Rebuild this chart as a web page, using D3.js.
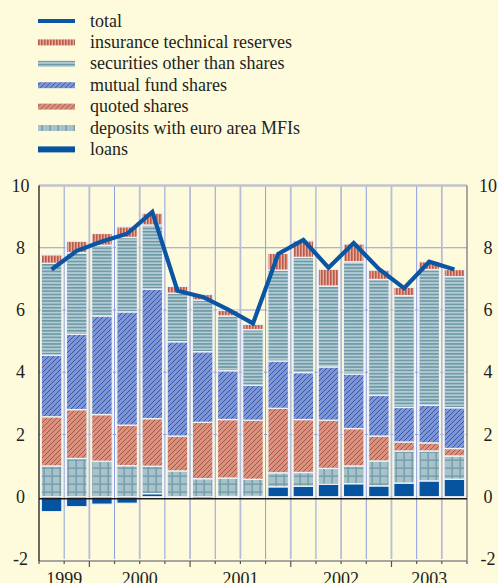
<!DOCTYPE html>
<html>
<head>
<meta charset="utf-8">
<script src="https://cdn.jsdelivr.net/npm/d3@7"></script>
<style>
  body { margin: 0; background: #fefbdd; }
  text { font-family: "Liberation Serif", "Times New Roman", serif; fill: #231f20; }
</style>
</head>
<body>
<div id="chart"></div>
<script>
// quarters 1999 Q3 .. 2003 Q3
const quarters = ['1999Q3','1999Q4','2000Q1','2000Q2','2000Q3','2000Q4','2001Q1','2001Q2','2001Q3','2001Q4',
                  '2002Q1','2002Q2','2002Q3','2002Q4','2003Q1','2003Q2','2003Q3'];
const years = ['1999','2000','2001','2002','2003'];

const loans      = [-0.48,-0.32,-0.24,-0.21, 0.10,-0.02,-0.06, 0.01, 0.01, 0.32, 0.34, 0.40, 0.42, 0.35, 0.44, 0.51, 0.56];
const deposits   = [ 0.99, 1.23, 1.14, 1.00, 0.88, 0.83, 0.58, 0.59, 0.55, 0.45, 0.44, 0.51, 0.57, 0.80, 1.03, 0.96, 0.75];
const quoted     = [ 1.58, 1.57, 1.50, 1.30, 1.53, 1.12, 1.81, 1.88, 1.90, 2.07, 1.70, 1.55, 1.20, 0.80, 0.29, 0.26, 0.24];
const mutual     = [ 1.98, 2.42, 3.17, 3.64, 4.16, 3.03, 2.27, 1.57, 1.12, 1.52, 1.51, 1.71, 1.75, 1.31, 1.11, 1.21, 1.31];
const securities = [ 2.95, 2.62, 2.27, 2.39, 2.06, 1.56, 1.66, 1.76, 1.79, 2.92, 3.70, 2.60, 3.61, 3.72, 3.59, 4.36, 4.21];
const insurance  = [ 0.27, 0.37, 0.38, 0.34, 0.38, 0.22, 0.18, 0.18, 0.17, 0.54, 0.53, 0.54, 0.57, 0.30, 0.27, 0.25, 0.23];
const total      = [ 7.30, 7.90, 8.20, 8.45, 9.15, 6.62, 6.42, 6.02, 5.57, 7.80, 8.25, 7.36, 8.15, 7.32, 6.70, 7.55, 7.30];

const yTicks = [-2, 0, 2, 4, 6, 8, 10];

const series = [
   {key:'loans', values: loans, fill:'url(#p-loans)', label:'loans'},
   {key:'deposits', values: deposits, fill:'url(#p-dep)', label:'deposits with euro area MFIs'},
   {key:'quoted', values: quoted, fill:'url(#p-quoted)', label:'quoted shares'},
   {key:'mutual', values: mutual, fill:'url(#p-mutual)', label:'mutual fund shares'},
   {key:'securities', values: securities, fill:'url(#p-sec)', label:'securities other than shares'},
   {key:'insurance', values: insurance, fill:'url(#p-ins)', label:'insurance technical reserves'}
];

const W = 498, H = 583;
const svg = d3.select('#chart').append('svg').attr('width', W).attr('height', H);
svg.append('rect').attr('width', W).attr('height', H).attr('fill', '#fefbdd');

// patterns
const defs = svg.append('defs');
function pattern(id, w, h, bg, fn){
   const p = defs.append('pattern').attr('id', id).attr('patternUnits','userSpaceOnUse')
                 .attr('width', w).attr('height', h);
   p.append('rect').attr('width', w).attr('height', h).attr('fill', bg);
   fn(p);
}
pattern('p-loans', 4, 4, '#0653a0', ()=>{});
pattern('p-ins', 3, 3, '#e2ab9b', p => p.append('rect').attr('x',0).attr('width',1.6).attr('height',3).attr('fill','#bd5a48'));
pattern('p-sec', 3.3, 3.3, '#b3cbd2', p => p.append('rect').attr('y',0).attr('width',3.3).attr('height',1.5).attr('fill','#6b97a5'));
pattern('p-mutual', 5, 5, '#8195d2', p => {
   p.append('path').attr('d','M0,5 L5,0 M-1,1 L1,-1 M4,6 L6,4').attr('stroke','#2452b4').attr('stroke-width',0.9);
});
pattern('p-quoted', 5, 5, '#d6937f', p => {
   p.append('path').attr('d','M0,5 L5,0 M-1,1 L1,-1 M4,6 L6,4').attr('stroke','#b0473a').attr('stroke-width',0.9);
});
pattern('p-dep', 8, 8, '#a9c1c9', p => {
   p.append('rect').attr('x',3.5).attr('width',1.3).attr('height',8).attr('fill','#6e9ba8');
   p.append('rect').attr('y',3.5).attr('width',8).attr('height',1.3).attr('fill','#6e9ba8');
});

// scales
const margin = {t:185, r:31, b:24, l:39};
const xScale = d3.scaleBand().domain(quarters).range([margin.l, W - margin.r]).paddingInner(0.18).paddingOuter(0.09);
const yScale = d3.scaleLinear().domain([-2, 10]).range([559, 185.5]);
const step = xScale.step();
const x0 = margin.l, x1 = W - margin.r;

// grid
const grid = svg.append('g');
grid.selectAll('.hgrid').data(yTicks.filter(d => d > 0 && d < 10)).join('line')
    .attr('x1', x0).attr('x2', x1).attr('y1', d => yScale(d)).attr('y2', d => yScale(d))
    .attr('stroke', '#8d9edf').attr('stroke-width', 1);
grid.selectAll('.vgrid').data(d3.range(1, quarters.length)).join('line')
    .attr('x1', i => x0 + i*step).attr('x2', i => x0 + i*step)
    .attr('y1', yScale(10)).attr('y2', yScale(-2))
    .attr('stroke', i => i % 2 ? '#8d9edf' : '#b7bdd6').attr('stroke-width', i => i % 2 ? 1 : 1.8);

// stacked bars
const rows = quarters.map((q, i) => {
   const r = {q};
   series.forEach(s => r[s.key] = s.values[i]);
   return r;
});
const stack = d3.stack().keys(series.map(s => s.key)).offset(d3.stackOffsetDiverging);
const stacked = stack(rows);

const bars = svg.append('g');
stacked.forEach((layer, li) => {
   bars.append('g').selectAll('rect').data(layer).join('rect')
      .attr('x', d => xScale(d.data.q))
      .attr('width', xScale.bandwidth())
      .attr('y', d => yScale(Math.max(d[0], d[1])))
      .attr('height', d => Math.abs(yScale(d[0]) - yScale(d[1])))
      .attr('fill', series[li].fill)
      .attr('stroke', '#eef1f6').attr('stroke-width', 1.3);
});

// frame
svg.append('line').attr('x1', x0).attr('x2', x1).attr('y1', yScale(10)).attr('y2', yScale(10))
   .attr('stroke', '#c2c3cc').attr('stroke-width', 2.5);
svg.append('line').attr('x1', x0).attr('x2', x1).attr('y1', yScale(-2)+2).attr('y2', yScale(-2)+2)
   .attr('stroke', '#8a8a8a').attr('stroke-width', 1.3);
svg.append('line').attr('x1', x0).attr('x2', x0).attr('y1', yScale(10)).attr('y2', yScale(-2)+2)
   .attr('stroke', '#1a1a1a').attr('stroke-width', 1.3);
svg.append('line').attr('x1', x1).attr('x2', x1).attr('y1', yScale(10)).attr('y2', yScale(-2)+2)
   .attr('stroke', '#8a8a8a').attr('stroke-width', 1.5);
svg.append('line').attr('x1', x0).attr('x2', x1).attr('y1', yScale(0)+2).attr('y2', yScale(0)+2)
   .attr('stroke', '#1a1a1a').attr('stroke-width', 1.3);

// bottom ticks
svg.append('g').selectAll('line').data(d3.range(0, quarters.length + 1)).join('line')
   .attr('x1', i => x0 + i*step).attr('x2', i => x0 + i*step)
   .attr('y1', yScale(-2)+2).attr('y2', i => yScale(-2) + ((i + 2) % 4 === 0 ? 8 : 5))
   .attr('stroke', '#555').attr('stroke-width', 1.2);

// year labels
const yearPos = years.map(y => {
   const qs = quarters.filter(q => q.startsWith(y));
   return {y, x: (xScale(qs[0]) + xScale(qs[qs.length-1]) + xScale.bandwidth())/2};
});
svg.append('g').selectAll('text').data(yearPos).join('text')
   .attr('x', d => d.x).attr('y', 585).attr('text-anchor','middle')
   .style('font-size','18px').text(d => d.y);

// y labels both sides
svg.append('g').selectAll('text').data(yTicks).join('text')
   .attr('x', 20.5).attr('y', d => yScale(d) + 6).attr('text-anchor','middle')
   .style('font-size','18px').text(d => d);
svg.append('g').selectAll('text').data(yTicks).join('text')
   .attr('x', 488).attr('y', d => yScale(d) + 6).attr('text-anchor','middle')
   .style('font-size','18px').text(d => d);

// total line
const line = d3.line().x((d, i) => xScale(quarters[i]) + xScale.bandwidth()/2).y(d => yScale(d));
svg.append('path').datum(total).attr('d', line)
   .attr('fill','none').attr('stroke','#0a56a2').attr('stroke-width',4.2).attr('stroke-linejoin','miter');

// legend
const legendItems = [{label:'total', fill:null}].concat(series.slice().reverse());
const lg = svg.append('g').selectAll('g').data(legendItems).join('g')
   .attr('transform', (d, i) => `translate(38,${21 + i*21.4})`);
lg.each(function(d){
   const g = d3.select(this);
   if(d.fill === null){
      g.append('rect').attr('x',0).attr('y',-2).attr('width',37).attr('height',4).attr('fill','#0a56a2');
   } else {
      g.append('rect').attr('x',0).attr('y',-3).attr('width',37).attr('height',6).attr('fill', d.fill);
   }
});
lg.append('text').attr('x', 52).attr('y', 5.5).style('font-size','18px').text(d => d.label);
</script>
</body>
</html>
